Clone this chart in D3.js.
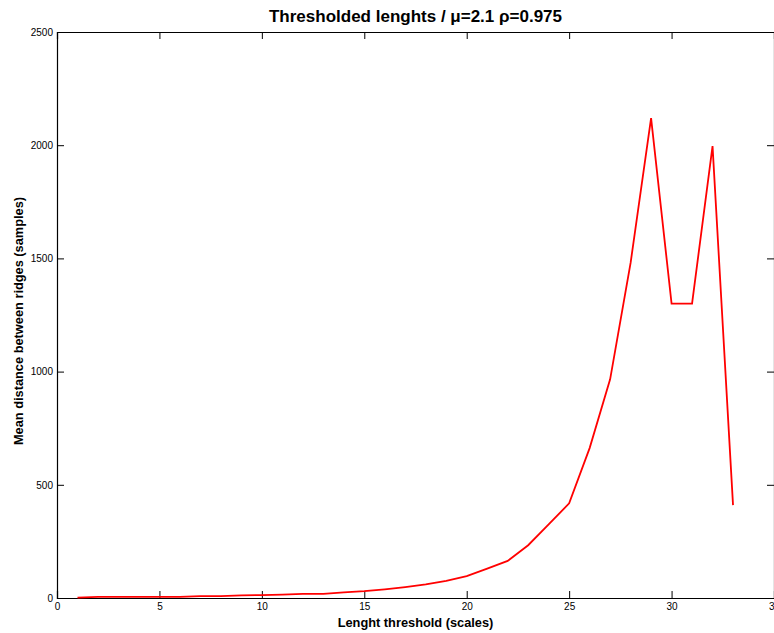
<!DOCTYPE html>
<html>
<head>
<meta charset="utf-8">
<script src="https://cdn.jsdelivr.net/npm/d3@7"></script>
<style>
  body { margin: 0; background: #fff; }
  svg { display: block; font-family: "Liberation Sans", Arial, Helvetica, sans-serif; }
</style>
</head>
<body>
<div id="chart"></div>
<script>
// scale thresholds (x) and mean ridge distance (y)
const thresholds = [1, 2, 3, 4, 5, 6, 7, 8, 9, 10, 11, 12, 13, 14, 15, 16, 17,
  18, 19, 20, 21, 22, 23, 24, 25, 26, 27, 28, 29, 30, 31, 32, 33];
const meanDist = [2, 5, 5, 5, 5, 5, 8, 8, 12, 13, 15, 18, 18, 25, 30, 38, 48,
  60, 76, 97, 130, 164, 233, 325, 418, 662, 966, 1480, 2120, 1300, 1300, 1996, 410];
const xTicks = [0, 5, 10, 15, 20, 25, 30, 35];
const yTicks = [0, 500, 1000, 1500, 2000, 2500];

const W = 774, H = 633;
const margin = { top: 32, right: 0, bottom: 35, left: 57 };
const width = W - margin.left - margin.right,
  height = H - margin.top - margin.bottom;

const svg = d3.select("#chart").append("svg")
  .attr("width", W).attr("height", H);

const g = svg.append("g")
  .attr("transform", `translate(${margin.left},${margin.top})`);

const x = d3.scaleLinear().domain([0, 35]).range([0, width]);
const y = d3.scaleLinear().domain([0, 2500]).range([height, 0]);

// frame with inward ticks on all four sides
const tickLen = 7;
const fmt = d3.format("d");
g.append("g").attr("transform", `translate(0,${height})`)
  .call(d3.axisBottom(x).tickValues(xTicks).tickSize(-tickLen).tickPadding(5).tickFormat(fmt));
g.append("g")
  .call(d3.axisTop(x).tickValues(xTicks).tickSize(-tickLen).tickFormat(""));
g.append("g")
  .call(d3.axisLeft(y).tickValues(yTicks).tickSize(-tickLen).tickPadding(4).tickFormat(fmt));
g.append("g").attr("transform", `translate(${width},0)`)
  .call(d3.axisRight(y).tickValues(yTicks).tickSize(-tickLen).tickFormat(""));

g.selectAll(".domain").attr("stroke", "#000").attr("stroke-width", 1.2);
g.selectAll(".tick line").attr("stroke", "#000").attr("stroke-width", 1);
g.selectAll(".tick text")
  .attr("fill", "#000")
  .style("font-size", "10px");

const line = d3.line()
  .x((d, i) => x(thresholds[i]))
  .y((d) => y(d));

g.append("path")
  .datum(meanDist)
  .attr("fill", "none")
  .attr("stroke", "#ff0000")
  .attr("stroke-width", 1.8)
  .attr("d", line);

// title and axis labels
svg.append("text")
  .attr("x", margin.left + width / 2)
  .attr("y", 22)
  .attr("text-anchor", "middle")
  .style("font-size", "17px")
  .style("font-weight", "bold")
  .text("Thresholded lenghts / \u03bc=2.1 \u03c1=0.975");

svg.append("text")
  .attr("x", margin.left + width / 2)
  .attr("y", 627)
  .attr("text-anchor", "middle")
  .style("font-size", "12.8px")
  .style("font-weight", "bold")
  .text("Lenght threshold (scales)");

svg.append("text")
  .attr("transform", `translate(23,321) rotate(-90)`)
  .attr("text-anchor", "middle")
  .style("font-size", "12.8px")
  .style("font-weight", "bold")
  .text("Mean distance between ridges (samples)");
</script>
</body>
</html>
